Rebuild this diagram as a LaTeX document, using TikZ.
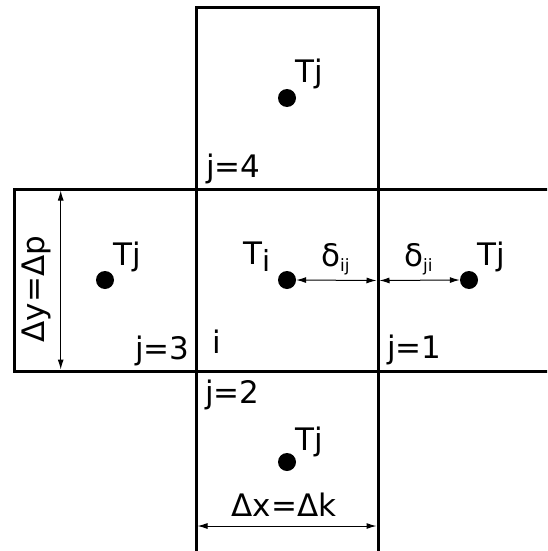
\documentclass[tikz,border=0pt]{standalone}
\usepackage{fontspec}
\setmainfont{DejaVu Sans}
\usetikzlibrary{arrows.meta}
\begin{document}
\begin{tikzpicture}[x=1pt,y=-1pt,
  cell/.style={line width=3pt},
  dot/.style={circle,fill=black,inner sep=0pt,minimum size=18pt},
  lbl/.style={inner sep=0pt,anchor=base west,font=\fontsize{31}{31}\selectfont},
  dim/.style={line width=1pt,{Latex[length=10pt,width=6pt]}-{Latex[length=10pt,width=6pt]}}]
\useasboundingbox (0,0) rectangle (547,551);
\begin{scope}
\clip (0,0) rectangle (547,551);
\draw[cell] (196,7.5) rectangle (378,189);
\draw[cell] (14,189) rectangle (196,371);
\draw[cell] (196,189) rectangle (378,371);
\draw[cell] (378,189) rectangle (570,371);
\draw[cell] (196,371) rectangle (378,570);
\end{scope}
% dots
\node[dot] (dt) at (287,98) {};
\node[dot] (dl) at (105,280) {};
\node[dot] (dc) at (287,280) {};
\node[dot] (dr) at (469,280) {};
\node[dot] (db) at (287,462) {};
% labels
\node[lbl] (tjt) at (295,82) {Tj};
\node[lbl] (tjl) at (113,265) {Tj};
\node[lbl] (tjr) at (477,265) {Tj};
\node[lbl] (tjb) at (295,450) {Tj};
\node[lbl] (ti) at (243,264) {T\raisebox{-7pt}{\fontsize{29}{29}\selectfont i}};
\node[lbl] (dij) at (321,266) {δ\raisebox{-5pt}{\fontsize{17}{17}\selectfont ij}};
\node[lbl] (dji) at (404,266) {δ\raisebox{-5pt}{\fontsize{17}{17}\selectfont ji}};
\node[lbl] (j4) at (206,177) {j=4};
\node[lbl] (j3) at (135,359) {j=3};
\node[lbl] (j2) at (205,403) {j=2};
\node[lbl] (j1) at (387,358) {j=1};
\node[lbl] (ii) at (212,353) {i};
\node[lbl,anchor=base] (dx) at (284,516) {Δx=Δk};
\node[lbl,anchor=base,rotate=90] (dy) at (44,289) {Δy=Δp};
% dimension arrows
\coordinate (mr) at (376.5,280.5);
\coordinate (mr2) at (379.5,280.5);
\draw[dim] (dc.east) -- (mr);
\draw[dim] (mr2) -- (dr.west);
\coordinate (xl) at (197.5,526);
\coordinate (xr) at (376.5,526);
\draw[dim] (xl) -- (xr);
\coordinate (yt) at (60.7,190.5);
\coordinate (yb) at (60.7,369.5);
\draw[dim] (yt) -- (yb);
\end{tikzpicture}
\end{document}
